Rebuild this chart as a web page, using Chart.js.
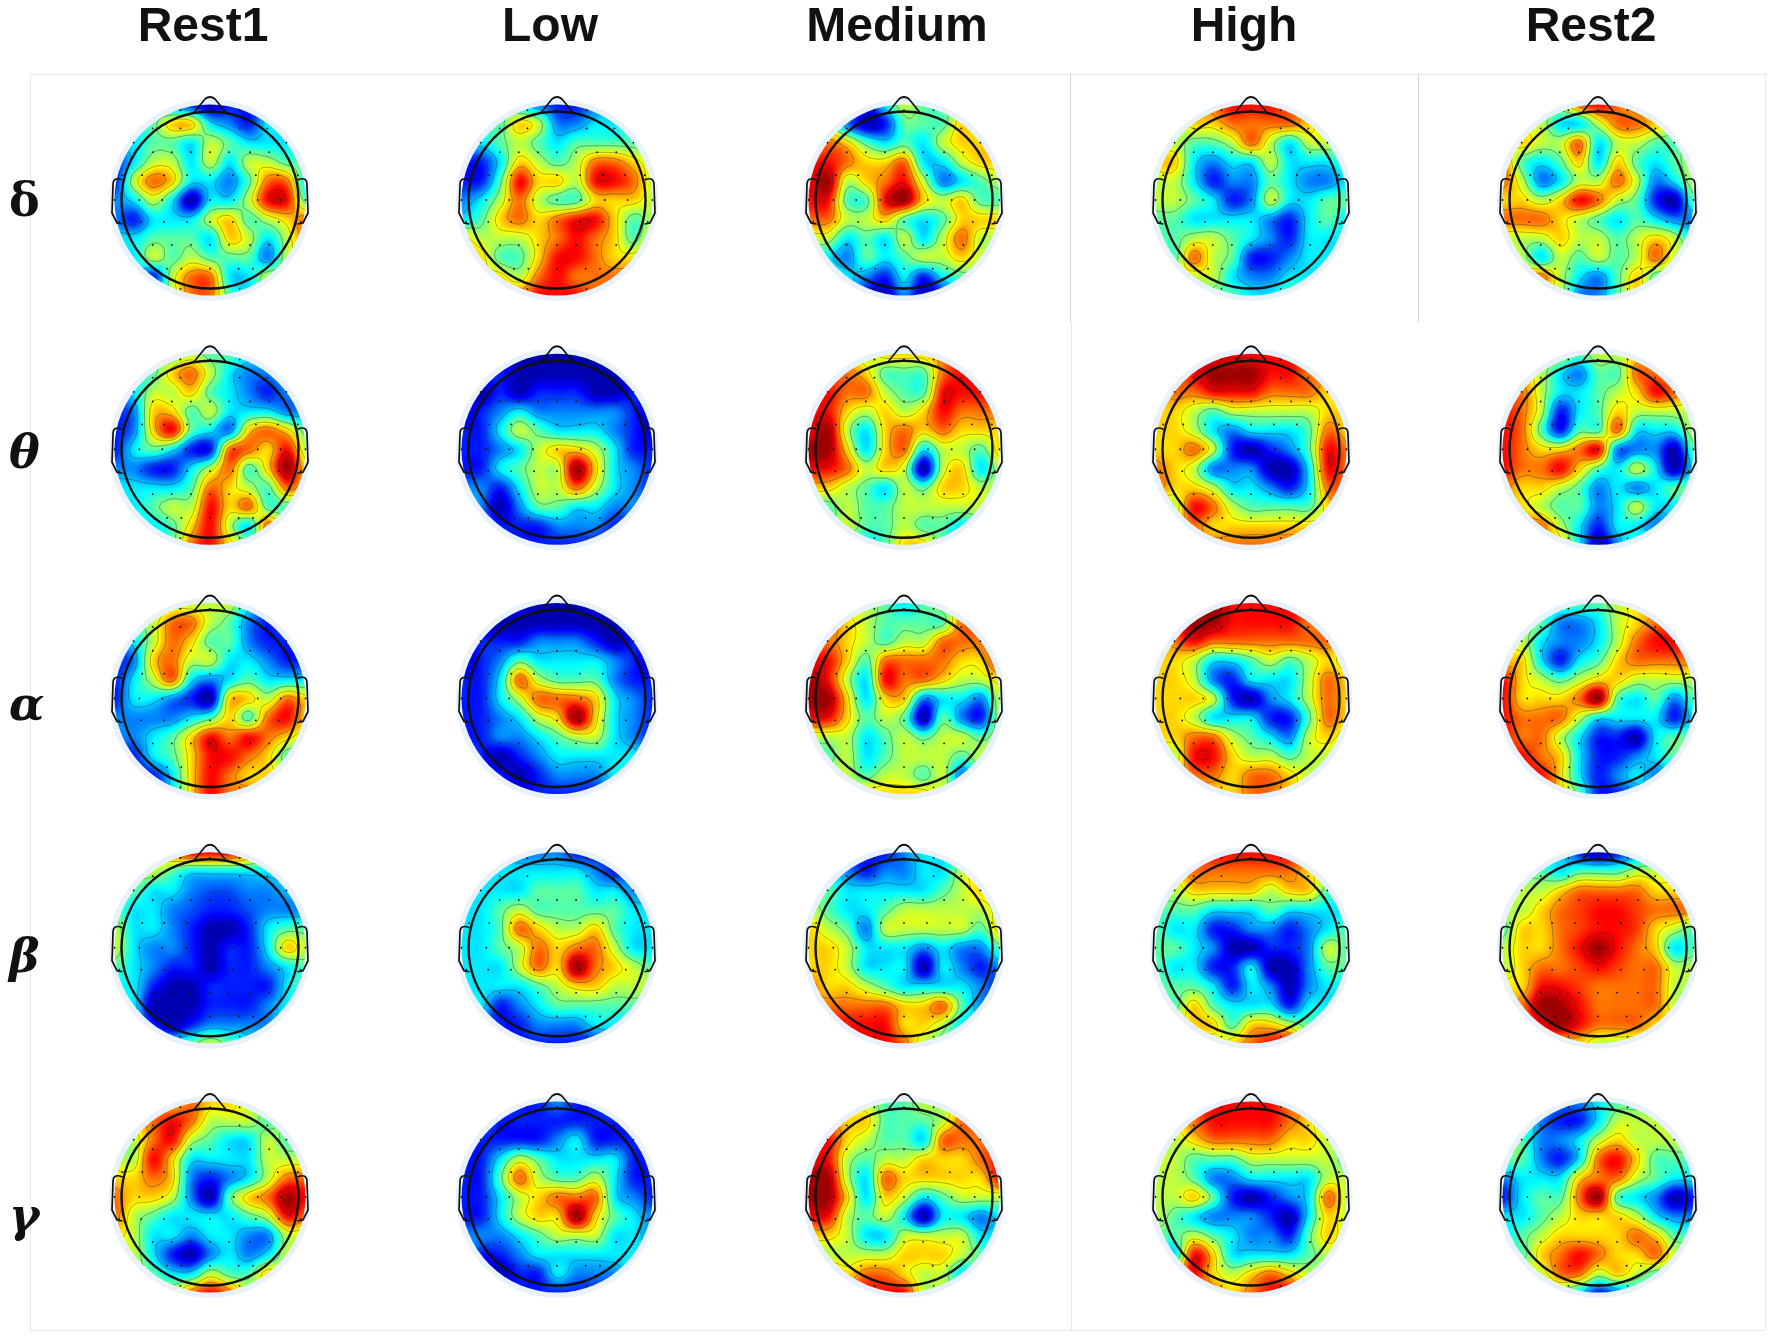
<!DOCTYPE html>
<html>
<head>
<meta charset="utf-8">
<title>EEG topographies</title>
<script src="https://cdn.jsdelivr.net/npm/chart.js@4/dist/chart.umd.min.js"></script>
<style>
  html, body { margin: 0; background: #fff; }
  canvas { display: block; }
</style>
</head>
<body>
<canvas id="myChart" width="1772" height="1339"></canvas>
<script>
const columnLabels = ["Rest1", "Low", "Medium", "High", "Rest2"];
const rowLabels = ["δ", "θ", "α", "β", "γ"];
// the greek labels sit a little lower than the map centres, in row units
const rowLabelPositions = [0.018, 1.027, 2.038, 3.05, 4.09];

// power on an 11x11 grid, 0 = deepest blue, 9 = deepest red
const deltaRest1 = [
  [3,3,3,2,1,0,1,1,2,3,3],
  [3,3,4,6,6,3,2,1,3,3,3],
  [3,3,4,4,3,5,4,3,3,3,3],
  [1,3,5,5,3,5,3,5,5,4,4],
  [1,5,7,6,3,3,2,4,7,7,3],
  [2,3,5,3,0,3,3,5,8,8,4],
  [2,1,3,3,3,5,6,4,5,6,7],
  [3,3,4,4,4,3,6,5,3,5,7],
  [3,3,5,4,5,4,4,4,2,5,6],
  [3,3,1,5,7,7,3,3,5,5,5],
  [3,3,3,5,7,7,4,3,5,5,5]
];
const deltaLow = [
  [4,4,4,3,2,1,1,2,3,4,4],
  [4,4,4,6,5,2,2,3,3,4,4],
  [3,3,4,5,4,3,4,4,4,4,4],
  [1,1,3,6,5,4,5,7,7,6,5],
  [1,1,4,8,6,6,5,8,8,7,5],
  [2,3,5,7,5,4,4,6,6,6,5],
  [3,4,6,7,6,7,8,8,6,4,5],
  [6,5,5,5,6,7,8,7,6,4,6],
  [6,6,4,4,6,8,8,7,6,6,7],
  [6,6,6,5,7,8,7,7,7,7,7],
  [7,7,7,7,8,8,8,7,7,7,7]
];
const deltaMedium = [
  [5,5,5,1,3,5,4,4,5,5,5],
  [5,5,2,0,1,4,4,4,6,5,5],
  [6,7,6,4,3,4,3,5,6,6,6],
  [8,8,7,6,6,7,3,3,5,6,6],
  [8,9,5,6,7,8,5,2,3,4,5],
  [8,8,4,4,8,9,6,5,6,4,4],
  [7,7,5,5,6,4,3,4,6,6,6],
  [5,5,3,4,3,5,3,5,7,5,5],
  [4,3,2,4,3,4,5,5,6,5,5],
  [4,4,3,2,1,3,1,3,4,4,4],
  [3,3,3,1,0,2,0,1,3,3,3]
];
const deltaHigh = [
  [5,5,6,7,8,8,8,7,6,5,5],
  [5,5,6,6,7,7,7,7,6,5,5],
  [5,5,4,4,5,7,5,3,5,5,5],
  [6,6,3,2,3,3,5,3,3,3,4],
  [5,5,3,1,2,2,4,3,2,2,3],
  [5,5,4,3,1,2,5,3,3,4,4],
  [4,4,3,3,3,3,2,1,3,4,3],
  [4,4,5,5,4,3,2,1,3,3,3],
  [4,4,7,5,4,1,1,2,3,3,3],
  [4,5,5,5,3,2,2,3,3,3,3],
  [4,4,4,4,4,3,3,4,4,4,4]
];
const deltaRest2 = [
  [5,5,5,5,7,8,7,6,5,5,5],
  [5,5,5,3,3,5,7,7,6,5,5],
  [5,6,5,5,7,3,5,5,4,4,5],
  [7,4,3,4,6,3,6,4,3,4,5],
  [7,5,2,3,5,5,7,5,2,3,5],
  [6,6,5,6,8,7,5,4,1,0,4],
  [7,7,7,6,5,4,3,4,3,2,2],
  [5,5,5,6,5,5,4,5,6,5,3],
  [6,5,3,5,4,5,4,5,7,5,5],
  [6,6,7,5,3,2,4,6,4,4,4],
  [5,5,5,5,2,2,4,6,5,5,5]
];
const thetaRest1 = [
  [4,4,4,4,5,4,4,3,3,3,3],
  [3,3,4,6,7,5,3,2,2,3,3],
  [2,3,5,5,6,4,3,2,1,2,2],
  [1,2,6,6,4,5,3,3,3,2,2],
  [1,2,6,8,4,3,2,6,7,6,4],
  [1,3,4,3,1,1,7,7,6,8,5],
  [2,2,1,1,3,5,7,4,6,9,6],
  [3,3,3,3,4,7,6,5,4,7,6],
  [3,3,4,5,5,8,6,7,4,4,4],
  [3,3,3,4,6,8,5,3,7,5,5],
  [3,3,3,4,7,8,6,5,6,5,5]
];
const thetaLow = [
  [1,1,1,0,0,0,0,0,1,1,1],
  [1,1,1,0,0,0,0,0,0,1,1],
  [0,0,1,0,1,1,1,0,0,1,1],
  [0,1,2,3,2,2,2,2,2,1,0],
  [1,1,3,5,4,3,3,3,2,1,0],
  [1,1,2,3,5,6,6,5,3,1,1],
  [1,1,3,4,5,5,9,6,3,2,1],
  [2,2,1,3,5,5,7,5,3,2,1],
  [3,2,0,2,4,4,3,3,2,2,1],
  [2,2,1,1,1,2,2,2,1,1,1],
  [1,1,1,1,1,1,1,1,1,1,1]
];
const thetaMedium = [
  [6,6,6,5,6,6,6,7,8,8,8],
  [7,7,7,6,4,4,4,7,8,8,8],
  [8,8,7,7,5,4,4,8,8,8,8],
  [8,8,6,5,6,5,6,8,7,7,7],
  [8,9,5,3,6,7,6,7,6,6,6],
  [9,9,6,3,6,7,3,5,5,4,6],
  [8,8,7,5,6,5,0,5,6,3,5],
  [6,6,5,4,3,5,4,6,6,5,5],
  [4,4,5,4,4,5,5,5,5,5,5],
  [4,4,5,4,4,5,4,4,3,4,4],
  [4,4,4,3,4,6,6,4,3,4,4]
];
const thetaHigh = [
  [7,7,7,8,8,8,8,8,7,7,7],
  [7,7,8,9,9,9,8,8,7,7,7],
  [6,7,7,8,8,8,7,7,7,6,6],
  [6,6,5,4,5,5,5,5,5,6,6],
  [6,6,5,3,2,3,3,3,4,7,6],
  [6,6,7,5,1,0,1,2,4,8,7],
  [7,6,5,2,2,2,0,0,3,8,7],
  [7,6,6,5,3,3,2,1,3,7,7],
  [5,5,8,7,5,4,4,4,4,6,7],
  [6,6,7,6,6,6,6,6,6,6,6],
  [7,7,7,7,7,7,7,7,7,7,7]
];
const thetaRest2 = [
  [5,5,5,5,4,5,5,6,6,6,6],
  [6,6,5,3,2,4,4,7,7,6,6],
  [7,7,5,3,3,4,5,6,8,7,6],
  [8,7,5,1,3,4,6,5,5,5,5],
  [8,7,4,1,4,4,7,3,3,3,5],
  [8,7,6,6,7,8,2,2,2,0,4],
  [8,7,7,8,6,4,3,5,3,0,3],
  [7,6,6,5,4,2,3,2,3,4,4],
  [7,6,5,4,4,2,3,5,3,3,3],
  [7,7,7,5,3,1,3,3,2,3,4],
  [6,6,6,6,3,0,2,4,4,4,4]
];
const alphaRest1 = [
  [4,4,4,5,5,5,5,3,2,2,2],
  [4,4,5,7,7,5,4,2,1,2,2],
  [2,3,5,7,6,4,4,2,1,1,1],
  [1,2,6,7,5,5,3,3,2,1,1],
  [1,3,5,7,3,2,3,4,3,3,3],
  [1,3,3,2,1,0,6,6,5,7,6],
  [2,2,2,2,3,4,6,4,7,8,6],
  [2,2,3,4,6,8,7,8,7,6,5],
  [1,1,3,4,6,8,8,7,6,4,4],
  [1,1,1,3,6,8,7,6,6,5,4],
  [1,1,1,3,6,8,7,7,6,5,4]
];
const alphaLow = [
  [0,0,1,1,0,0,0,1,1,1,1],
  [0,0,0,0,0,0,0,0,0,1,1],
  [0,1,1,1,2,2,2,1,0,1,1],
  [0,1,2,4,3,3,3,3,2,1,0],
  [1,1,3,7,5,4,4,4,2,1,1],
  [1,1,3,5,7,7,7,6,3,2,1],
  [1,1,2,3,5,6,9,6,3,2,1],
  [1,1,2,2,3,4,5,5,3,2,1],
  [2,1,0,1,2,3,3,3,3,3,2],
  [2,1,1,0,1,2,2,2,3,3,2],
  [1,1,1,1,1,1,1,1,2,2,2]
];
const alphaMedium = [
  [5,5,5,5,4,3,4,5,6,6,6],
  [7,7,6,5,4,4,4,4,7,7,7],
  [7,7,6,5,4,5,5,7,7,7,8],
  [8,8,6,4,7,7,7,7,6,6,8],
  [9,8,5,3,8,7,7,6,5,5,6],
  [9,9,6,3,6,6,2,3,3,2,5],
  [8,8,6,4,5,4,0,4,2,1,5],
  [5,5,5,3,4,5,4,5,5,4,5],
  [4,4,5,3,4,5,5,5,4,5,5],
  [5,5,5,4,5,5,4,5,2,4,4],
  [5,5,5,6,6,6,6,5,4,4,4]
];
const alphaHigh = [
  [8,8,8,9,8,8,8,8,8,8,8],
  [8,8,9,9,8,8,8,8,7,7,7],
  [6,7,8,7,7,7,7,7,7,7,6],
  [6,6,5,3,3,4,5,4,5,6,5],
  [6,6,5,2,1,3,3,3,5,7,6],
  [6,6,6,5,1,0,2,3,5,7,6],
  [6,6,5,3,3,3,1,1,4,7,6],
  [6,6,7,7,5,4,3,2,5,6,5],
  [5,5,8,8,6,5,5,4,5,5,5],
  [6,6,7,7,6,7,7,6,5,5,5],
  [6,6,6,6,6,7,7,6,5,5,5]
];
const alphaRest2 = [
  [4,4,4,4,4,4,5,6,6,6,6],
  [5,5,4,2,2,3,5,6,7,7,7],
  [5,5,3,2,2,3,5,7,8,8,7],
  [6,6,3,1,3,4,6,7,7,7,7],
  [8,6,5,4,5,6,6,5,5,5,5],
  [8,6,6,6,7,9,4,3,4,2,4],
  [8,7,7,7,5,3,3,3,3,1,3],
  [8,7,7,5,3,1,1,0,3,4,4],
  [8,8,7,6,3,1,1,2,3,4,4],
  [8,8,8,6,3,1,2,3,2,3,3],
  [8,8,8,6,4,1,1,2,3,3,3]
];
const betaRest1 = [
  [6,6,6,7,8,8,8,7,5,4,4],
  [5,5,5,4,3,3,3,3,3,3,3],
  [4,4,3,3,2,1.5,1.5,2,2,2.5,2.5],
  [4,3,3,2,1.5,1,1,1.5,2,2,2],
  [5,3,3,2,1,0,0,1,3,4,4],
  [5,3,2,2,1,0,1,1,3,6,5],
  [4,3,2,1,1,0,1,1,2,3,4],
  [3,3,1,0,0,1,1,1,1,3,4],
  [3,3,0,0,0,1,1,1,2,3,3],
  [3,3,1,0,1,2,2,2,2,3,3],
  [3,3,3,3,4,5,4,3,3,3,3]
];
const betaLow = [
  [3,3,3,2,2,2,1,1,2,2,2],
  [3,3,3,3,3,3,3,2,1,2,2],
  [3,3,3,3,4,4,4,3,3,2,2],
  [3,3,4,5,4,4,4,4,4,3,3],
  [3,3,4,7,6,5,5,6,4,3,3],
  [3,3,4,5,7,6,7,7,5,3,3],
  [3,3,3,5,7,6,9,7,6,5,4],
  [3,3,3,3,4,5,6,6,5,5,5],
  [3,3,1,2,3,4,4,4,4,4,4],
  [2,2,1,1,2,2,2,3,3,3,3],
  [1,1,1,1,1,1,1,1,2,3,3]
];
const betaMedium = [
  [3,3,2,1,1,2,3,3,4,5,5],
  [3,3,2,1,2,2,3,3,5,6,6],
  [4,4,3,3,3,3,3,4,5,6,6],
  [5,4,3,3,4,5,5,5,5,5,6],
  [6,5,4,2,5,5,5,5,5,4,6],
  [6,6,5,3,3,3,2,3,2,2,4],
  [6,6,5,3,3,3,0,3,2,1,2],
  [7,6,6,5,4,3,3,3,3,2,1],
  [7,7,7,7,7,6,6,7,4,2,1],
  [8,8,8,8,8,6,6,5,3,3,3],
  [8,8,8,8,8,7,5,4,3,3,3]
];
const betaHigh = [
  [7,7,7,8,8,8,8,8,7,7,7],
  [6,6,7,7,7,7,7,7,6,5,5],
  [5,5,6,6,6,6,5,6,6,4,4],
  [4,4,4,3,3,3,4,3,3,3,3],
  [4,3,3,1,1,2,2,1,2,3,4],
  [4,4,3,2,0,0,1,1,2,5,4],
  [4,3,3,1,1,3,0,0,2,4,4],
  [4,4,4,3,1,3,2,0,2,3,3],
  [4,4,6,4,3,3,3,1,3,3,3],
  [4,5,6,6,4,6,6,5,4,4,4],
  [5,5,5,5,6,7,8,8,5,4,4]
];
const betaRest2 = [
  [3,3,3,3,1,0,1,2,3,3,3],
  [4,4,4,3,4,4,4,5,5,5,5],
  [5,5,5,6,7,7,7,7,6,6,6],
  [5,5,6,7,7.5,8,8,7.5,7,7,7],
  [4,6,6,7,7.5,8,8,7.5,6,5,4],
  [5,6,6,7,8,9,8,7,6,3,4],
  [5,6,7,7,7.5,8,7.5,7,7,5,5],
  [6,6,8,8,7.5,7,7,7,7,5,5],
  [7,7,9,9,8,7,7,7,7,5,5],
  [7,7,8,9,8,7,7,7,6,6,6],
  [6,6,6,6,6,5,5,5,5,5,5]
];
const gammaRest1 = [
  [6,6,6,6,7,6,6,5,5,5,5],
  [6,6,7,8,7,5,5,5,4,5,5],
  [4,5,7,8,5,4,3,3,5,4,4],
  [5,5,8,6,3,3,3,3,5,5,5],
  [6,6,7,6,2,1,2,3,5,7,7],
  [7,6,6,5,2,0,4,6,7,9,8],
  [7,5,4,3,3,3,3,4,5,8,7],
  [6,5,3,3,2,3,3,2,2,5,5],
  [5,5,3,1,0,2,3,2,3,5,5],
  [5,5,4,3,3,5,4,4,6,5,5],
  [5,5,5,5,7,8,7,5,5,5,5]
];
const gammaLow = [
  [2,2,2,1,1,2,1,1,2,2,2],
  [2,2,1,1,1,1,1,1,1,1,1],
  [1,1,1,1,1,2,3,1,1,1,1],
  [1,1,3,5,4,3,3,3,3,1,1],
  [1,1,4,7,5,4,4,5,3,1,1],
  [1,1,3,5,6,7,7,7,3,2,1],
  [1,1,3,5,6,6,9,6,4,3,2],
  [2,2,2,3,4,5,5,5,3,3,2],
  [3,1,1,2,3,3,3,3,3,3,3],
  [1,1,0,1,1,3,2,2,2,3,3],
  [1,1,1,1,1,1,1,1,1,1,1]
];
const gammaMedium = [
  [6,6,5,5,4,4,5,5,6,6,6],
  [7,7,6,6,4,4,4,5,7,7,7],
  [8,8,6,5,4,4,3,7,7,7,8],
  [8,8,5,4,5,5,6,6,6,7,8],
  [9,9,5,3,7,6,6,6,6,6,8],
  [9,9,6,3,6,5,3,4,5,5,5],
  [8,8,5,4,5,3,0,3,3,2,3],
  [6,6,5,3,3,5,5,5,5,3,3],
  [5,5,5,5,5,6,6,6,5,4,3],
  [7,7,6,7,7,6,5,5,3,4,4],
  [7,7,7,8,8,8,5,5,5,5,5]
];
const gammaHigh = [
  [7,7,7,8,8,8,8,7,7,7,7],
  [6,6,7,8,8,8,8,7,6,5,5],
  [5,5,6,7,7,7,7,6,6,5,5],
  [5,5,4,4,4,5,5,5,5,5,4],
  [5,5,4,2,2,3,3,3,3,5,5],
  [5,5,6,4,1,0,1,2,3,7,5],
  [5,4,3,2,2,2,1,0,3,6,5],
  [4,4,5,4,3,2,2,1,4,6,5],
  [3,3,8,6,3,3,3,3,4,5,5],
  [5,6,8,6,5,6,7,6,5,5,5],
  [6,6,7,7,6,7,8,8,6,6,6]
];
const gammaRest2 = [
  [3,3,3,2,2,3,4,4,5,5,5],
  [4,4,2,1,1,3,5,5,5,5,5],
  [5,4,2,2,3,5,6,5,5,5,5],
  [4,4,2,1,3,7,8,6,4,4,4],
  [2,3,3,3,6,7,7,5,4,3,3],
  [1,3,4,4,7,9,4,3,2,0,1],
  [3,3,4,5,6,6,6,5,3,2,2],
  [3,4,5,6,6,6,6,7,6,4,4],
  [4,4,6,7,8,7,6,6,7,5,5],
  [5,5,5,7,7,5,6,5,4,4,4],
  [3,3,3,4,3,1,2,3,3,3,3]
];

const mapRows = [
  [deltaRest1, deltaLow, deltaMedium, deltaHigh, deltaRest2],
  [thetaRest1, thetaLow, thetaMedium, thetaHigh, thetaRest2],
  [alphaRest1, alphaLow, alphaMedium, alphaHigh, alphaRest2],
  [betaRest1, betaLow, betaMedium, betaHigh, betaRest2],
  [gammaRest1, gammaLow, gammaMedium, gammaHigh, gammaRest2]
];

// electrode sites on the unit disk, by row
const electrodeV = [-0.94, -0.75, -0.6, -0.5, -0.26, 0, 0.23, 0.47, 0.72, 0.93];
const electrodeU = [
  [-0.31, 0, 0.31],
  [-0.6, -0.31, 0.31, 0.6],
  [-0.8, 0.8],
  [-0.6, -0.4, -0.2, 0, 0.2, 0.42, 0.62],
  [-0.92, -0.71, -0.48, -0.24, 0, 0.24, 0.48, 0.71, 0.92],
  [-1, -0.74, -0.5, -0.25, 0, 0.25, 0.5, 0.74, 1],
  [-0.95, -0.72, -0.48, -0.24, 0, 0.24, 0.48, 0.72, 0.95],
  [-0.8, -0.6, -0.4, -0.2, 0, 0.2, 0.42, 0.62, 0.8],
  [-0.45, -0.3, 0, 0.3, 0.45],
  [-0.31, 0, 0.31]
];
// not on whole numbers, flat stretches of the grid would give straight lines
const contourLevels = [1.4, 2.6, 4.4, 5.6, 6.6, 8.2];

const colStep = 347;    // px per column
const rowStep = 249.25; // px per row
const diskR = 95.5;
const headR = 88.5;
const haloR = 101;

function jet(v) {
  const t = 0.05 + 0.92 * v / 9;
  const c = x => Math.max(0, Math.min(1, 1.5 - Math.abs(4 * t - x)));
  return [c(3) * 255, c(2) * 255, c(1) * 255];
}

function cubic(a, b, c, d, t) {
  return b + 0.5 * t * (c - a + t * (2 * a - 5 * b + 4 * c - d + t * (3 * (b - c) + d - a)));
}

function fieldAt(grid, u, v) {
  const n = grid.length - 1;
  const gx = Math.max(0, Math.min(n - 1e-6, (u + 1) * n / 2));
  const gy = Math.max(0, Math.min(n - 1e-6, (v + 1) * n / 2));
  const ix = Math.floor(gx), iy = Math.floor(gy);
  const cl = i => Math.max(0, Math.min(n, i));
  const rowVal = r => cubic(grid[r][cl(ix - 1)], grid[r][ix], grid[r][cl(ix + 1)], grid[r][cl(ix + 2)], gx - ix);
  const val = cubic(rowVal(cl(iy - 1)), rowVal(iy), rowVal(cl(iy + 1)), rowVal(cl(iy + 2)), gy - iy);
  return Math.max(0, Math.min(9, val));
}

function drawContours(ctx, grid, cx, cy) {
  const step = 2;
  const n = Math.ceil(2 * diskR / step);
  const vals = [];
  for (let j = 0; j <= n; j++) {
    vals.push([]);
    for (let i = 0; i <= n; i++) {
      vals[j].push(fieldAt(grid, (i * step - diskR) / diskR, (j * step - diskR) / diskR));
    }
  }
  ctx.beginPath();
  contourLevels.forEach(level => {
    for (let j = 0; j < n; j++) {
      for (let i = 0; i < n; i++) {
        const x0 = cx - diskR + i * step, y0 = cy - diskR + j * step;
        const a = vals[j][i], b = vals[j][i + 1], c = vals[j + 1][i + 1], d = vals[j + 1][i];
        const pts = [];
        if ((a < level) !== (b < level)) pts.push([x0 + step * (level - a) / (b - a), y0]);
        if ((b < level) !== (c < level)) pts.push([x0 + step, y0 + step * (level - b) / (c - b)]);
        if ((d < level) !== (c < level)) pts.push([x0 + step * (level - d) / (c - d), y0 + step]);
        if ((a < level) !== (d < level)) pts.push([x0, y0 + step * (level - a) / (d - a)]);
        for (let k = 0; k + 1 < pts.length; k += 2) {
          ctx.moveTo(pts[k][0], pts[k][1]);
          ctx.lineTo(pts[k + 1][0], pts[k + 1][1]);
        }
      }
    }
  });
  ctx.strokeStyle = 'rgba(25,55,60,0.5)';
  ctx.lineWidth = 0.8;
  ctx.stroke();
}

function drawHeadOutline(ctx, cx, cy) {
  ctx.strokeStyle = '#111';
  ctx.lineWidth = 2.4;
  ctx.beginPath();
  ctx.arc(cx, cy, headR, 0, Math.PI * 2);
  ctx.stroke();
  // nose
  ctx.lineWidth = 1.7;
  ctx.beginPath();
  ctx.moveTo(cx - 15.5, cy - 88);
  ctx.lineTo(cx - 5, cy - 101);
  ctx.quadraticCurveTo(cx, cy - 105, cx + 5, cy - 101);
  ctx.lineTo(cx + 15.5, cy - 88);
  ctx.stroke();
  // ears
  [-1, 1].forEach(s => {
    ctx.beginPath();
    ctx.moveTo(cx + s * 87.5, cy - 20);
    ctx.quadraticCurveTo(cx + s * 97, cy - 24, cx + s * 97, cy - 15);
    ctx.lineTo(cx + s * 98, cy + 13);
    ctx.lineTo(cx + s * 93, cy + 23);
    ctx.lineTo(cx + s * 87.5, cy + 24);
    ctx.stroke();
  });
}

const topoPlugin = {
  id: 'topoPlugin',
  beforeDraw(chart) {
    const { ctx } = chart;
    ctx.save();
    ctx.fillStyle = '#fff';
    ctx.fillRect(0, 0, chart.width, chart.height);
    ctx.lineWidth = 1;
    ctx.strokeStyle = '#e6e8ea';
    ctx.strokeRect(30.5, 74.5, 1735, 1256);
    ctx.beginPath();
    ctx.moveTo(1071.5, 322);
    ctx.lineTo(1071.5, 1331);
    ctx.stroke();
    ctx.strokeStyle = '#d4d4d4';
    ctx.beginPath();
    ctx.moveTo(1070.5, 74);
    ctx.lineTo(1070.5, 322);
    ctx.moveTo(1418.5, 74);
    ctx.lineTo(1418.5, 322);
    ctx.stroke();
    ctx.restore();
  },
  beforeDatasetsDraw(chart) {
    const { ctx, scales } = chart;
    const size = Math.ceil(2 * diskR) + 2;
    const off = document.createElement('canvas');
    off.width = size;
    off.height = size;
    const octx = off.getContext('2d');
    mapRows.forEach((row, r) => {
      row.forEach((grid, c) => {
        const cx = scales.x.getPixelForValue(c);
        const cy = scales.y.getPixelForValue(r);
        const img = octx.createImageData(size, size);
        for (let j = 0; j < size; j++) {
          for (let i = 0; i < size; i++) {
            const rgb = jet(fieldAt(grid, (i - size / 2) / diskR, (j - size / 2) / diskR));
            const p = (j * size + i) * 4;
            img.data[p] = rgb[0];
            img.data[p + 1] = rgb[1];
            img.data[p + 2] = rgb[2];
            img.data[p + 3] = 255;
          }
        }
        octx.putImageData(img, 0, 0);
        ctx.save();
        ctx.fillStyle = '#e9f2fb';
        ctx.beginPath();
        ctx.arc(cx, cy, haloR, 0, Math.PI * 2);
        ctx.fill();
        ctx.beginPath();
        ctx.arc(cx, cy, diskR, 0, Math.PI * 2);
        ctx.clip();
        ctx.drawImage(off, cx - size / 2, cy - size / 2);
        drawContours(ctx, grid, cx, cy);
        ctx.restore();
        ctx.save();
        drawHeadOutline(ctx, cx, cy);
        ctx.restore();
      });
    });
  }
};

// one dot per electrode on every map
const electrodePoints = [];
mapRows.forEach((row, r) => {
  row.forEach((grid, c) => {
    electrodeV.forEach((v, k) => {
      electrodeU[k].forEach(u => {
        electrodePoints.push({ x: c + u * diskR / colStep, y: r + v * diskR / rowStep });
      });
    });
  });
});

const noPadding = axis => {
  axis.paddingLeft = 0;
  axis.paddingRight = 0;
  axis.paddingTop = 0;
  axis.paddingBottom = 0;
};

new Chart(document.getElementById('myChart'), {
  type: 'scatter',
  data: {
    datasets: [{
      data: electrodePoints,
      pointRadius: 0.9,
      pointBorderWidth: 0,
      pointBackgroundColor: '#111'
    }]
  },
  options: {
    responsive: false,
    animation: false,
    layout: { padding: 0, autoPadding: false },
    plugins: { legend: { display: false }, tooltip: { enabled: false } },
    scales: {
      x: {
        type: 'linear',
        position: 'top',
        min: -210 / colStep,
        max: (1772 - 210) / colStep,
        grid: { display: false },
        border: { display: false },
        afterBuildTicks: axis => { axis.ticks = columnLabels.map((_, i) => ({ value: i })); },
        afterFit: axis => { axis.height = 74; noPadding(axis); },
        ticks: {
          autoSkip: false,
          maxRotation: 0,
          padding: 9,
          labelOffset: -7,
          color: '#111',
          font: { family: 'Liberation Sans', size: 48, weight: 'bold' },
          callback: v => columnLabels[v]
        }
      },
      y: {
        type: 'linear',
        reverse: true,
        min: (74 - 200) / rowStep,
        max: (1339 - 200) / rowStep,
        grid: { display: false },
        border: { display: false },
        afterBuildTicks: axis => { axis.ticks = rowLabelPositions.map(p => ({ value: p })); },
        afterFit: axis => { axis.width = 0; noPadding(axis); },
        ticks: {
          autoSkip: false,
          mirror: true,
          padding: 9,
          color: '#111',
          font: ctx => ({
            family: 'DejaVu Serif',
            size: 46,
            weight: 'bold',
            style: ctx.index === 0 ? 'normal' : 'italic'
          }),
          callback: (v, i) => rowLabels[i]
        }
      }
    }
  },
  plugins: [topoPlugin]
});
</script>
</body>
</html>
